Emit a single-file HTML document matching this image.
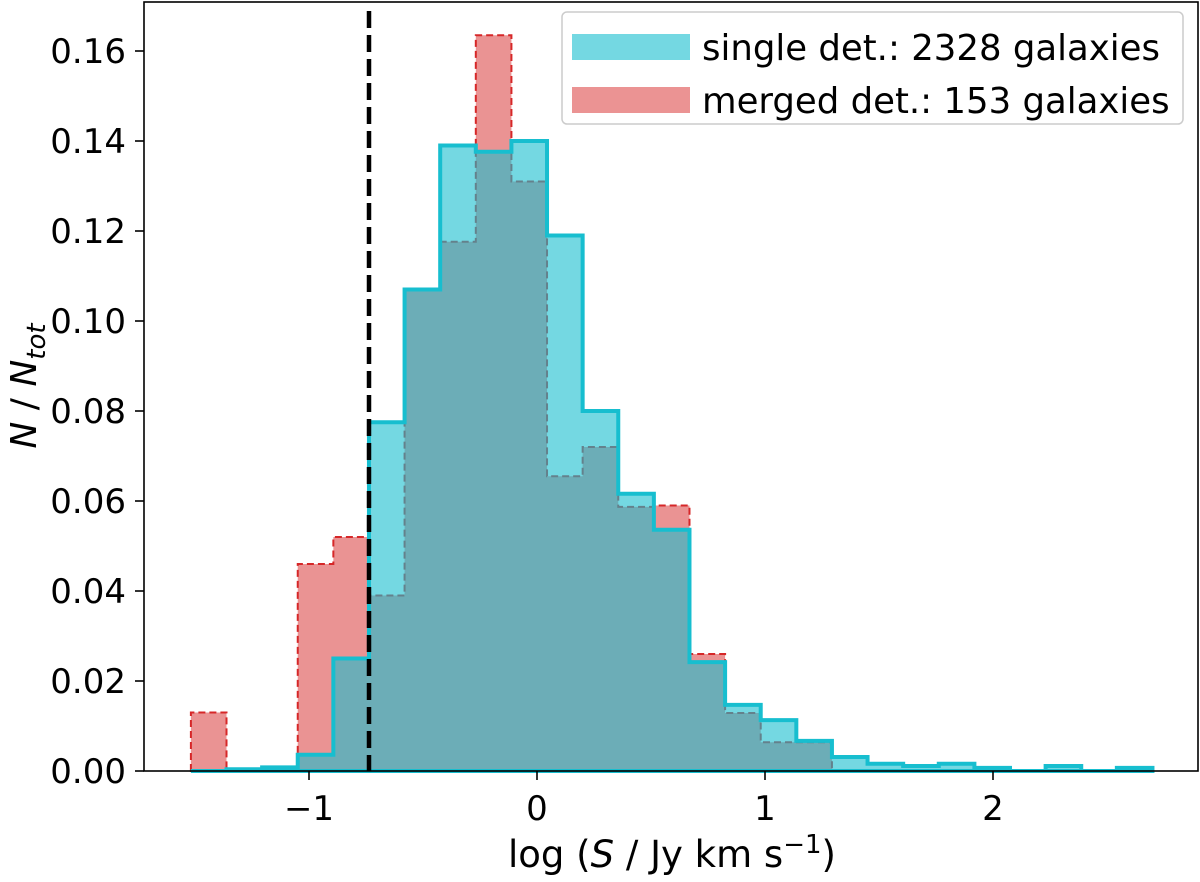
<!DOCTYPE html>
<html><head><meta charset="utf-8"><style>
html,body{margin:0;padding:0;background:#fff;}
svg text{font-family:"DejaVu Sans","Liberation Sans",sans-serif;fill:#000;}
</style></head><body>
<svg id="chart" width="1200" height="877" viewBox="0 0 1200 877" xmlns="http://www.w3.org/2000/svg">
<g id="red-layer"></g>
<g id="cyan-layer"></g>
<line x1="369" y1="11" x2="369" y2="771" stroke="#000" stroke-width="4.5" stroke-dasharray="17,7"/>
<rect x="144" y="2" width="1054" height="769" fill="none" stroke="#000" stroke-width="1.6"/>
<g id="xticks"></g>
<g id="yticks"></g>
<text x="672" y="867" font-size="37" text-anchor="middle">log (<tspan font-style="italic">S</tspan> / Jy km s<tspan dy="-14" font-size="26">−1</tspan><tspan dy="14">)</tspan></text>
<text transform="translate(36,386) rotate(-90)" font-size="36" text-anchor="middle" font-style="italic">N<tspan font-style="normal"> / </tspan>N<tspan dy="9" font-size="26">tot</tspan></text>
<g>
<rect x="562" y="12" width="621" height="112" rx="5" fill="#fff" fill-opacity="0.8" stroke="#ccc" stroke-width="1.5"/>
<rect x="572" y="34" width="118" height="26" fill="#74d8e2"/>
<text x="702" y="60" font-size="35.5">single det.: 2328 galaxies</text>
<rect x="572" y="87" width="118" height="26" fill="#eb9393"/>
<text x="702" y="113" font-size="35.5">merged det.: 153 galaxies</text>
</g>
</svg>
<script>
const binStart = -1.518;
const binWidth = 0.1562;
const singleVals = [0,0.0004,0.0008,0.0036,0.025,0.0775,0.107,0.139,0.1376,0.140,0.119,0.080,0.0616,0.0536,0.0242,0.0147,0.0113,0.0067,0.0031,0.0016,0.0011,0.0016,0.0007,0,0.0011,0,0.0007];
const mergedVals = [0.013,0,0,0.046,0.052,0.039,0.107,0.1176,0.1635,0.131,0.0655,0.072,0.0587,0.059,0.026,0.0129,0.0064,0.0064,0,0,0,0,0,0,0,0,0];
const xTicks = [-1,0,1,2];
const xTickLabels = ["−1","0","1","2"];
const yTicks = [0,0.02,0.04,0.06,0.08,0.10,0.12,0.14,0.16];
const yTickLabels = ["0.00","0.02","0.04","0.06","0.08","0.10","0.12","0.14","0.16"];
const NS="http://www.w3.org/2000/svg";
function X(v){return 537+228*v;}
function Y(v){return 771-4500*v;}
function stepPath(vals){
  let d="M"+X(binStart)+","+Y(0);
  for(let i=0;i<vals.length;i++){
    const x0=X(binStart+i*binWidth), x1=X(binStart+(i+1)*binWidth);
    d+=" L"+x0+","+Y(vals[i])+" L"+x1+","+Y(vals[i]);
  }
  d+=" L"+X(binStart+vals.length*binWidth)+","+Y(0)+" Z";
  return d;
}
function mk(tag,attrs,parent){const e=document.createElementNS(NS,tag);for(const k in attrs)e.setAttribute(k,attrs[k]);parent.appendChild(e);return e;}
const red=document.getElementById('red-layer');
const rf=mk('path',{d:stepPath(mergedVals),fill:'#d62728','fill-opacity':0.5,stroke:'none'},red);


const ro=mk('path',{d:stepPath(mergedVals),fill:'none',stroke:'#d62728','stroke-width':2,'stroke-dasharray':'7,4'},red);


const cy=document.getElementById('cyan-layer');
const cf=mk('path',{d:stepPath(singleVals),fill:'#17becf','fill-opacity':0.6,stroke:'none'},cy);


const co=mk('path',{d:stepPath(singleVals),fill:'none',stroke:'#17becf','stroke-width':4,'stroke-linejoin':'miter'},cy);


const xg=document.getElementById('xticks');
xTicks.forEach((t,i)=>{
  const l=mk('line',{x1:X(t),x2:X(t),y1:771,y2:780,stroke:'#000','stroke-width':1.6},xg);
  
  
  const tx=mk('text',{x:X(t),y:820,'font-size':34,'text-anchor':'middle'},xg);
  tx.textContent=xTickLabels[i];
  
  
});
const yg=document.getElementById('yticks');
yTicks.forEach((t,i)=>{
  const l=mk('line',{x1:135,x2:144,y1:Y(t),y2:Y(t),stroke:'#000','stroke-width':1.6},yg);
  
  
  const tx=mk('text',{x:126,y:Y(t)+12,'font-size':34,'text-anchor':'end'},yg);
  tx.textContent=yTickLabels[i];
  
  
});
</script>
</body></html>
